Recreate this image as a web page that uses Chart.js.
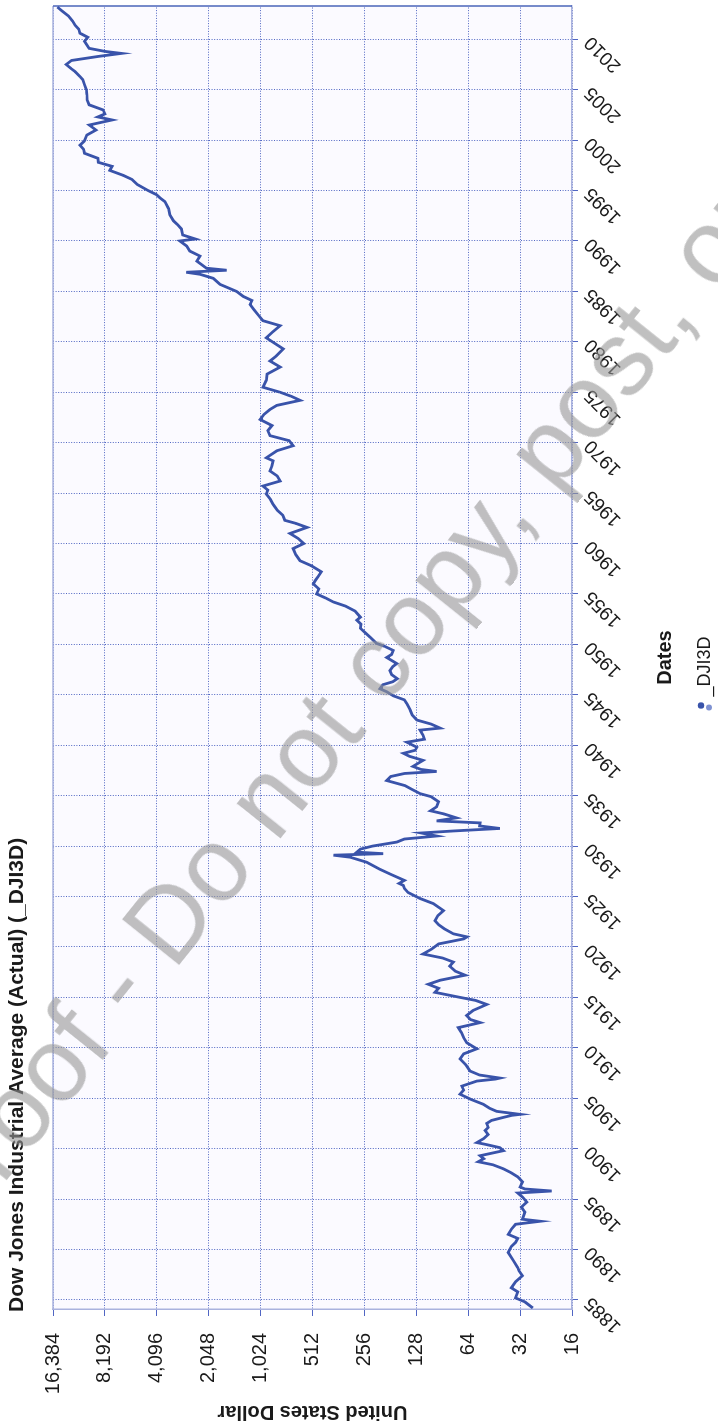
<!DOCTYPE html>
<html>
<head>
<meta charset="utf-8">
<script src="https://cdn.jsdelivr.net/npm/chart.js@4.4.1/dist/chart.umd.min.js"></script>
<style>
  html, body { margin: 0; padding: 0; background: #fff; width: 718px; height: 1426px; overflow: hidden; }
  #turn {
    position: absolute; left: 0; top: 0; width: 1426px; height: 718px;
    transform-origin: 0 0; transform: translate(0, 1426px) rotate(-90deg);
  }
  #mark {
    position: absolute; left: -70px; top: 1165px; white-space: nowrap;
    font: 105px "Liberation Sans", Arial, sans-serif; color: rgba(150, 150, 150, 0.6);
    transform-origin: 0 50%; transform: rotate(-51.3deg); pointer-events: none; line-height: 1;
  }
</style>
</head>
<body>
<div id="turn"><canvas id="dow" width="1426" height="718"></canvas></div>
<div id="mark">Proof - Do not copy, post, or distribute</div>
<script>
// values (decimal year, index level)
const years = [
  1884.2, 1884.8, 1885.2, 1885.8, 1886.2, 1886.8, 1887.4, 1887.9, 1888.2, 1888.9,
  1889.7, 1890.3, 1890.7, 1891.1, 1891.5, 1892.0, 1892.5, 1892.8, 1893.0, 1893.7,
  1894.2, 1894.7, 1895.2, 1895.6, 1895.8, 1896.0, 1896.2, 1896.7, 1897.2, 1897.6,
  1898.0, 1898.4, 1898.7, 1899.0, 1899.3, 1899.8, 1900.1, 1900.4, 1900.6, 1901.0,
  1901.4, 1901.8, 1902.1, 1902.5, 1902.8, 1903.1, 1903.3, 1903.4, 1903.7, 1904.0,
  1904.4, 1904.9, 1905.4, 1905.8, 1906.2, 1906.7, 1906.9, 1907.0, 1907.3, 1907.7,
  1908.3, 1908.9, 1909.4, 1909.9, 1910.5, 1911.0, 1911.5, 1912.0, 1912.5, 1912.8,
  1913.2, 1913.7, 1914.3, 1914.7, 1915.0, 1915.5, 1915.9, 1916.3, 1916.7, 1917.2,
  1917.6, 1918.1, 1918.5, 1918.9, 1919.3, 1919.8, 1920.3, 1920.8, 1921.0, 1921.3,
  1921.8, 1922.2, 1922.6, 1923.1, 1923.6, 1924.3, 1924.8, 1925.4, 1925.8, 1926.1,
  1926.3, 1926.6, 1927.2, 1927.7, 1928.4, 1928.9, 1929.1, 1929.25, 1929.4, 1929.7,
  1930.0, 1930.4, 1930.7, 1931.0, 1931.3, 1931.5, 1931.75, 1932.0, 1932.3, 1932.5,
  1932.8, 1933.2, 1933.5, 1933.9, 1934.4, 1934.9, 1935.2, 1935.6, 1936.0, 1936.5,
  1936.9, 1937.2, 1937.4, 1937.6, 1937.9, 1938.5, 1938.9, 1939.2, 1939.5, 1939.8,
  1940.3, 1940.6, 1941.0, 1941.5, 1941.7, 1942.1, 1942.5, 1943.0, 1943.5, 1944.1,
  1944.5, 1944.9, 1945.3, 1945.6, 1946.0, 1946.3, 1946.6, 1947.0, 1947.4, 1947.8,
  1948.1, 1948.7, 1949.0, 1949.4, 1949.8, 1950.1, 1950.7, 1951.2, 1951.6, 1952.0,
  1952.4, 1952.7, 1953.3, 1953.8, 1954.2, 1954.6, 1955.0, 1955.5, 1956.0, 1956.4,
  1956.8, 1957.2, 1957.8, 1958.3, 1958.9, 1959.5, 1960.0, 1960.5, 1961.0, 1961.6,
  1962.0, 1962.3, 1962.8, 1963.3, 1963.9, 1964.4, 1964.9, 1965.3, 1965.7, 1966.2,
  1966.7, 1967.2, 1967.7, 1968.2, 1968.5, 1969.2, 1969.7, 1970.2, 1970.7, 1971.2,
  1971.7, 1972.3, 1972.8, 1973.3, 1973.7, 1974.2, 1974.6, 1975.0, 1975.5, 1976.2,
  1976.8, 1977.5, 1978.1, 1978.6, 1979.3, 1979.8, 1980.4, 1981.0, 1981.6, 1982.1,
  1982.6, 1983.2, 1983.7, 1984.1, 1984.5, 1985.0, 1985.7, 1986.3, 1986.7, 1986.9,
  1987.1, 1987.3, 1988.0, 1988.5, 1989.0, 1989.5, 1990.0, 1990.2, 1990.6, 1991.2,
  1991.6, 1992.0, 1992.6, 1993.2, 1993.9, 1994.3, 1994.6, 1995.0, 1995.6, 1996.1,
  1996.5, 1997.0, 1997.4, 1997.8, 1998.2, 1998.7, 1999.1, 1999.5, 1999.9, 2000.5,
  2001.0, 2001.5, 2002.0, 2002.3, 2002.6, 2003.0, 2003.5, 2004.0, 2004.5, 2005.0,
  2005.5, 2006.0, 2006.3, 2006.8, 2007.1, 2007.5, 2007.9, 2008.3, 2008.6, 2008.8,
  2009.1, 2009.8, 2010.2, 2010.6, 2011.0, 2011.4, 2011.8, 2012.3, 2012.8, 2013.2
];
const dowValues = [
  27, 30, 34, 33, 36, 34, 31, 32.5, 33, 35,
  37.5, 36, 34, 33, 37.5, 36, 34, 24.5, 31, 30,
  31.5, 29.3, 31, 33, 21, 30, 32, 31, 33, 36,
  40, 46, 56, 52, 54.6, 40, 42, 50, 57, 52,
  49, 51, 49, 50, 46.8, 40, 35.8, 32, 43.8, 48,
  52.3, 62, 71.4, 68, 69.7, 57, 44.5, 41.9, 55, 62.5,
  66, 71.4, 68, 57, 65.3, 68, 70, 73, 54.6, 62,
  65.3, 60, 49.9, 58, 71.4, 99.7, 95, 109, 93, 66.7,
  76, 82, 78, 90, 117, 104, 95, 68, 65, 78,
  88, 95, 99.7, 96, 89, 102, 121.6, 143, 150, 152,
  161, 150, 180, 208, 248, 310, 387, 199, 283, 270,
  230, 166, 150, 97.5, 120, 78, 41.9, 55, 54.6, 97.5,
  75, 89, 106, 97.5, 95, 105, 121.6, 135, 149, 190,
  180, 150, 97.5, 120, 134, 117, 140, 152, 130, 127,
  145, 115, 117, 121.6, 93, 105, 127, 135, 139, 145,
  150, 174, 190, 208, 200, 175, 165, 178, 182, 175,
  166, 190, 178, 174, 195, 218, 237, 255, 270, 268,
  283, 270, 290, 330, 387, 430, 485, 470, 506, 490,
  472, 455, 520, 605, 640, 663, 576, 620, 692, 551,
  640, 741, 760, 820, 867, 900, 949, 930, 993, 789,
  820, 903, 880, 867, 949, 824, 663, 700, 903, 930,
  880, 1032, 980, 903, 824, 605, 680, 789, 993, 949,
  940, 789, 903, 830, 757, 840, 949, 870, 789, 993,
  1050, 1120, 1179, 1150, 1290, 1411, 1762, 1928, 2300, 2763,
  1610, 2109, 2400, 2300, 2637, 2750, 3009, 2450, 2900, 2950,
  3100, 3280, 3440, 3500, 3677, 3940, 4120, 4600, 5309, 5700,
  6400, 7674, 7444, 8946, 9000, 10755, 10900, 11420, 10800, 10430,
  9224, 10100, 7444, 9000, 8192, 8400, 10110, 10400, 10430, 10500,
  10755, 11000, 11420, 12200, 12880, 13740, 12800, 8946, 6581, 8192,
  10110, 10755, 10300, 11420, 11600, 12200, 12600, 13300, 14500, 15470
];
const dollarTicks = [16, 32, 64, 128, 256, 512, 1024, 2048, 4096, 8192, 16384];
const yearTicks = [1885, 1890, 1895, 1900, 1905, 1910, 1915, 1920, 1925, 1930, 1935, 1940, 1945,
  1950, 1955, 1960, 1965, 1970, 1975, 1980, 1985, 1990, 1995, 2000, 2005, 2010];
const seriesName = '_DJI3D';
const chartTitle = 'Dow Jones Industrial Average (Actual) (_DJI3D)';

const FONT = '"Liberation Sans", Arial, sans-serif';
const LINE_BLUE = '#3953aa';
const GRID_BLUE = 'rgba(50, 75, 185, 0.85)';

const points = years.map((yr, i) => ({ x: yr, y: dowValues[i] }));

const extras = {
  id: 'extras',
  beforeDraw(chart) {
    const { ctx, chartArea: a } = chart;
    ctx.save();
    ctx.fillStyle = '#fbfaff';
    ctx.fillRect(a.left, a.top, a.right - a.left, a.bottom - a.top);
    ctx.restore();
  },
  beforeDatasetsDraw(chart) {
    const { ctx, chartArea: a } = chart;
    ctx.save();
    ctx.strokeStyle = '#a9b2de';
    ctx.lineWidth = 1.5;
    ctx.beginPath();
    ctx.moveTo(a.left, a.top);
    ctx.lineTo(a.right, a.top);
    ctx.stroke();
    ctx.strokeStyle = '#4a64b8';
    ctx.beginPath();
    ctx.moveTo(a.right, a.top);
    ctx.lineTo(a.right, a.bottom);
    ctx.stroke();
    ctx.restore();
  },
  afterDraw(chart) {
    const { ctx, chartArea: a } = chart;
    ctx.save();
    // title, aligned with the plot's left edge
    ctx.fillStyle = '#1a1a1a';
    ctx.font = 'bold 21px ' + FONT;
    ctx.textAlign = 'left';
    ctx.textBaseline = 'middle';
    ctx.fillText(chartTitle, a.left - 3, 17);
    // legend
    const label = chart.data.datasets[0].label;
    ctx.font = '18px ' + FONT;
    const tw = ctx.measureText(label).width;
    const cx = (a.left + a.right) / 2 - 16;
    const x0 = cx - (tw + 14) / 2;
    ctx.fillStyle = LINE_BLUE;
    ctx.beginPath(); ctx.arc(x0 + 5, 701, 3.2, 0, Math.PI * 2); ctx.fill();
    ctx.fillStyle = '#7f92d2';
    ctx.beginPath(); ctx.arc(x0 + 3, 709, 3, 0, Math.PI * 2); ctx.fill();
    ctx.fillStyle = '#1a1a1a';
    ctx.fillText(label, x0 + 14, 705);
    ctx.restore();
  }
};

new Chart(document.getElementById('dow'), {
  type: 'line',
  data: {
    datasets: [{
      label: seriesName,
      data: points,
      borderColor: LINE_BLUE,
      borderWidth: 2.8,
      pointRadius: 0,
      tension: 0,
      fill: false
    }]
  },
  options: {
    responsive: false,
    animation: false,
    layout: { padding: { top: 53, right: 6, bottom: 41, left: 0 } },
    plugins: { legend: { display: false }, title: { display: false }, tooltip: { enabled: false } },
    scales: {
      x: {
        type: 'linear',
        min: 1884.1,
        max: 2013.3,
        afterBuildTicks(scale) { scale.ticks = yearTicks.map(v => ({ value: v })); },
        afterFit(scale) { scale.height = 105; },
        ticks: {
          autoSkip: false, minRotation: 45, maxRotation: 45, padding: 2,
          color: '#1a1a1a', font: { family: FONT, size: 19 },
          callback: v => String(v)
        },
        grid: { color: GRID_BLUE, lineWidth: 1, tickLength: 6, drawTicks: true },
        border: { display: true, color: '#a9b2de', width: 1.5, dash: [1, 1.6] },
        title: {
          display: true, text: 'Dates', color: '#1a1a1a',
          font: { family: FONT, size: 20, weight: 'bold' }, padding: { top: 0, bottom: 0 }
        }
      },
      y: {
        type: 'logarithmic',
        min: 16,
        max: 16384,
        afterBuildTicks(scale) { scale.ticks = dollarTicks.map(v => ({ value: v })); },
        afterFit(scale) { scale.width = 117; },
        ticks: {
          padding: 17, color: '#1a1a1a', font: { family: FONT, size: 20 },
          callback: v => Number(v).toLocaleString('en-US')
        },
        grid: { color: GRID_BLUE, lineWidth: 1, tickLength: 7 },
        border: { display: true, color: '#a9b2de', width: 1.5, dash: [1, 1.6] },
        title: {
          display: true, text: 'United States Dollar', color: '#1a1a1a',
          font: { family: FONT, size: 20, weight: 'bold' }, padding: { top: 2, bottom: 0 }
        }
      }
    }
  },
  plugins: [extras]
});
</script>
</body>
</html>
